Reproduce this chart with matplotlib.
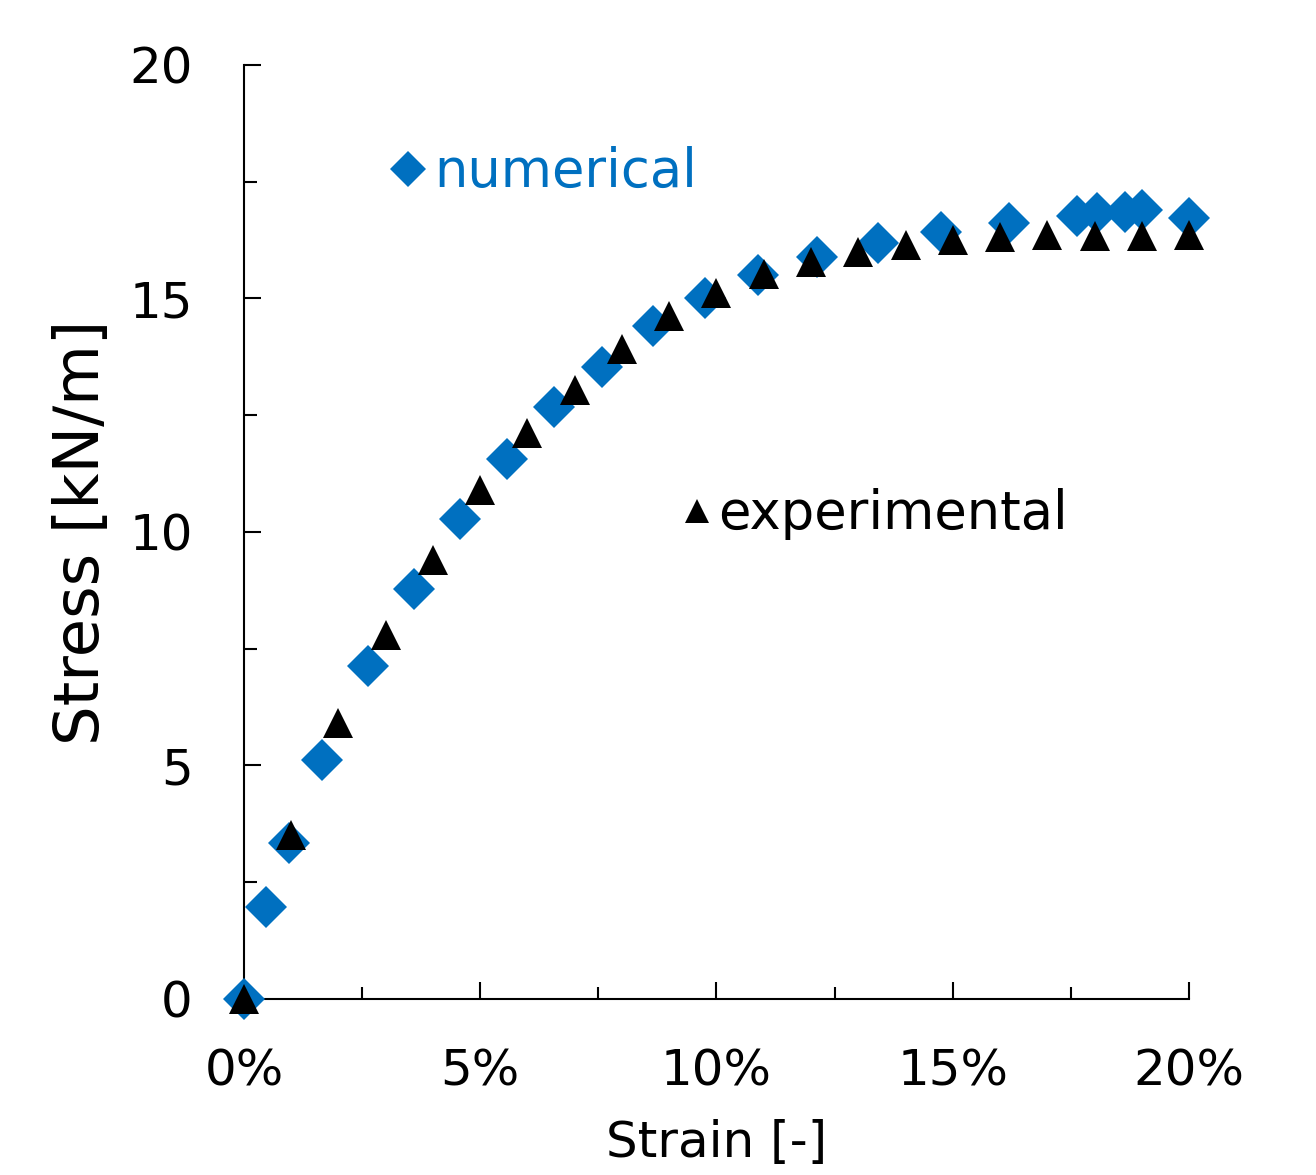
#import necessary libraries
import matplotlib.pyplot as plt
from matplotlib.ticker import PercentFormatter, MultipleLocator

#data (strain in %, stress in kN/m)
strain_num = [0, 0.47, 0.95, 1.65, 2.62, 3.59, 4.57, 5.57, 6.57, 7.58, 8.65,
              9.76, 10.88, 12.13, 13.42, 14.75, 16.19, 17.63, 18.05, 18.65, 19.0, 20.0]
stress_num = [0, 1.98, 3.35, 5.12, 7.12, 8.78, 10.27, 11.57, 12.67, 13.54, 14.40,
              15.01, 15.50, 15.89, 16.19, 16.42, 16.62, 16.77, 16.83, 16.85, 16.89, 16.72]

strain_exp = [0, 1, 2, 3, 4, 5, 6, 7, 8, 9, 10, 11, 12, 13, 14, 15, 16, 17, 18, 19, 20]
stress_exp = [0, 3.52, 5.91, 7.80, 9.41, 10.89, 12.12, 13.03, 13.91, 14.62, 15.12,
              15.52, 15.78, 16.0, 16.15, 16.25, 16.32, 16.36, 16.34, 16.34, 16.36]

blue = '#0070C0'

plt.rcParams['font.family'] = ['DejaVu Sans']

fig = plt.figure(figsize=(13.16, 11.75), dpi=100)
ax = fig.add_axes([0.1854, 0.1498, 0.7181, 0.7949])

#numerical as blue diamonds, experimental as black triangles on top
h_num, = ax.plot(strain_num, stress_num, linestyle='none', marker='D', markersize=21,
                 color=blue, markeredgewidth=0, clip_on=False, zorder=3, label='numerical')
h_exp, = ax.plot(strain_exp, stress_exp, linestyle='none', marker='^', markersize=22,
                 color='black', markeredgewidth=0, clip_on=False, zorder=4, label='experimental')

ax.set_xlim(0, 20)
ax.set_ylim(0, 20)

#axes look
for side in ['top', 'right']:
    ax.spines[side].set_visible(False)
for side in ['left', 'bottom']:
    ax.spines[side].set_linewidth(1.5)

ax.xaxis.set_major_locator(MultipleLocator(5))
ax.xaxis.set_minor_locator(MultipleLocator(2.5))
ax.yaxis.set_major_locator(MultipleLocator(5))
ax.yaxis.set_minor_locator(MultipleLocator(2.5))
ax.xaxis.set_major_formatter(PercentFormatter(xmax=100, decimals=0))

ax.tick_params(which='major', direction='in', length=12, width=1.5, labelsize=36)
ax.tick_params(which='minor', direction='in', length=9, width=1.5)
ax.tick_params(axis='x', which='major', pad=35)
ax.tick_params(axis='y', which='major', pad=37)

ax.set_xlabel('Strain [-]', fontsize=36, labelpad=17)
ax.set_ylabel('Stress [kN/m]', fontsize=45, labelpad=12)

#two separate labels like the original data labels
leg1 = ax.legend(handles=[h_num], loc='center left', bbox_to_anchor=(0.151, 0.885),
                 frameon=False, fontsize=38, handlelength=0.8, handletextpad=0.1,
                 borderpad=0, borderaxespad=0, markerscale=0.85, labelcolor=blue)
ax.add_artist(leg1)
ax.legend(handles=[h_exp], loc='center left', bbox_to_anchor=(0.457, 0.519),
          frameon=False, fontsize=38, handlelength=0.8, handletextpad=0.0,
          borderpad=0, borderaxespad=0, markerscale=0.8)

fig.savefig('out.png', dpi=100)
